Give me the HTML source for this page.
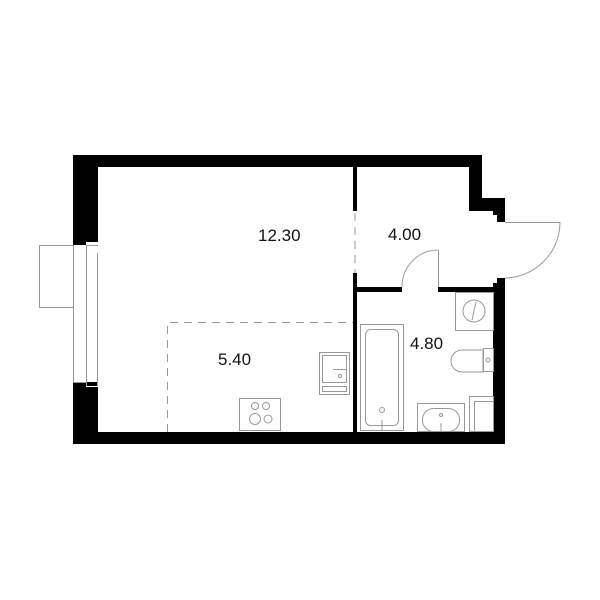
<!DOCTYPE html>
<html><head><style>
html,body{margin:0;padding:0;background:#fff;}
svg{display:block;}
text{font-family:"Liberation Sans",sans-serif;font-size:17px;fill:#111;}
</style></head><body>
<svg width="600" height="600" viewBox="0 0 600 600" xmlns="http://www.w3.org/2000/svg">
<g fill="#000">
<!-- top wall -->
<rect x="73" y="155" width="409" height="12"/>
<!-- left wall -->
<rect x="73" y="155" width="25" height="87"/>
<rect x="73" y="242" width="13" height="3"/>
<rect x="73" y="382" width="25" height="62"/>
<rect x="86" y="386" width="12" height="1" fill="#fff"/>
<!-- bottom wall -->
<rect x="73" y="432" width="432" height="12"/>
<!-- hallway right wall -->
<polygon points="469,155 482,155 482,198 505,198 505,222 497,222 497,215 493,215 493,211 469,211"/>
<!-- right wall lower -->
<polygon points="493,278 505,278 505,444 493,444 493,283 497,283 497,278"/>
<!-- partition vertical -->
<rect x="353" y="167" width="4" height="44"/>
<rect x="353" y="273" width="4" height="159"/>
<!-- partition horizontal -->
<rect x="353" y="287" width="49" height="5"/>
<rect x="438" y="287" width="55" height="5"/>
</g>
<g fill="none" stroke="#999" stroke-width="1">
<!-- window -->
<rect x="39.5" y="245.5" width="34" height="62"/>
<line x1="73.5" y1="245" x2="73.5" y2="382"/>
<line x1="86.5" y1="245" x2="86.5" y2="386"/>
<line x1="86" y1="245.5" x2="98" y2="245.5"/>
<line x1="86" y1="382.5" x2="73" y2="382.5"/>
<line x1="97.5" y1="253" x2="97.5" y2="386"/>
<!-- dashed -->
<line x1="355" y1="213" x2="355" y2="273" stroke-dasharray="8,6"/>
<polyline points="167.5,432 167.5,322.5 353,322.5" stroke-dasharray="8,6"/>
<!-- bathroom door -->
<line x1="438.5" y1="250" x2="438.5" y2="287"/>
<path d="M402,287 A36,37 0 0 1 438,250"/>
<!-- entrance door -->
<line x1="505" y1="222.5" x2="560" y2="222.5"/>
<path d="M560,222 A56,56 0 0 1 505,278"/>
<!-- stove -->
<rect x="239.5" y="398.5" width="41" height="32"/>
<circle cx="255" cy="406" r="3.5"/><circle cx="266" cy="406" r="3.5"/>
<circle cx="255" cy="419" r="5.5"/><circle cx="268" cy="419" r="4"/>
<!-- kitchen sink -->
<rect x="319.5" y="352.5" width="30" height="42"/>
<rect x="322.5" y="355.5" width="24" height="27"/>
<line x1="333" y1="369.5" x2="347" y2="369.5"/>
<circle cx="340" cy="376" r="1.5"/>
<rect x="322.5" y="386.5" width="24" height="5"/>
<!-- bathtub -->
<rect x="360.5" y="324.5" width="43" height="106"/>
<rect x="365.5" y="329.5" width="33" height="96" rx="5"/>
<circle cx="382" cy="410" r="2.5"/>
<line x1="382" y1="420" x2="382" y2="431"/>
<!-- washer -->
<rect x="455.5" y="292.5" width="38" height="38"/>
<circle cx="474" cy="311" r="11"/>
<path d="M476,302 L472,320"/>
<!-- toilet -->
<rect x="483.5" y="348.5" width="10" height="23"/>
<path d="M483,350 L462,350 A11,11 0 0 0 462,372 L483,372 Z"/>
<circle cx="488" cy="360" r="2"/>
<!-- bath sink -->
<rect x="417.5" y="403.5" width="47" height="28"/>
<rect x="422.5" y="408.5" width="37" height="23" rx="11"/>
<circle cx="441" cy="415" r="1.5"/>
<line x1="441" y1="423" x2="441" y2="432"/>
<!-- cabinet -->
<rect x="469.5" y="396.5" width="24" height="35"/>
<rect x="474.5" y="401.5" width="19" height="30"/>
</g>
<text x="258" y="241">12.30</text>
<text x="388" y="240">4.00</text>
<text x="218" y="365">5.40</text>
<text x="410" y="349">4.80</text>
</svg>
</body></html>
